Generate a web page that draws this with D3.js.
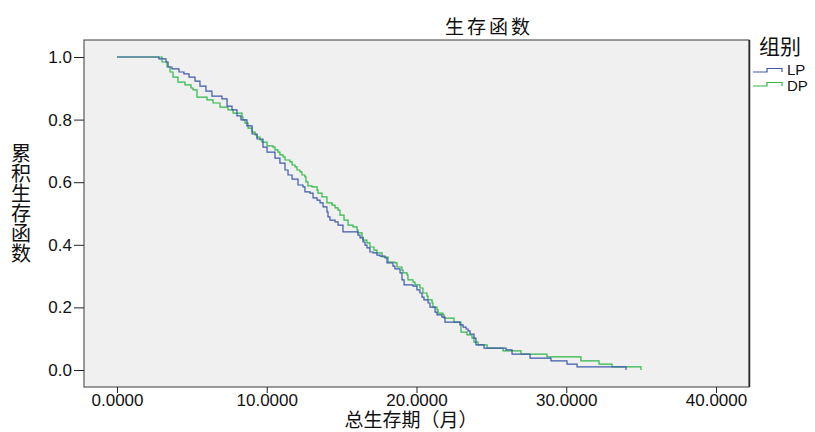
<!DOCTYPE html>
<html lang="zh-CN"><head><meta charset="utf-8">
<script src="https://cdn.jsdelivr.net/npm/d3@7"></script>
<style>body{margin:0;background:#fff}</style>
</head><body>
<svg id="c" width="815" height="432" lang="zh-CN"></svg>
<script>
const title = "生存函数";
const xTitle = "总生存期（月）";
const yTitle = "累积生存函数";
const legendTitle = "组别";
const groups = ["LP", "DP"];
const xTicks = [0, 10, 20, 30, 40];
const yTicks = [0, 0.2, 0.4, 0.6, 0.8, 1.0];

// time (months) at which survival drops, survival after drop
const lpTime = [2.80,3.27,3.41,3.67,4.14,4.47,4.81,5.21,5.54,5.94,6.34,7.01,7.35,7.68,8.01,8.28,8.68,9.02,9.35,9.75,10.02,10.55,10.88,11.22,11.42,11.69,12.09,12.42,12.55,12.89,13.09,13.36,13.56,13.76,14.02,14.09,14.22,14.56,14.76,15.09,16.09,16.23,16.43,16.56,16.69,16.89,17.10,17.36,17.56,17.90,18.03,18.43,18.56,18.90,19.03,19.17,19.77,20.03,20.23,20.37,20.50,20.77,20.90,21.24,21.37,21.70,21.90,22.90,23.11,23.31,23.44,23.57,23.84,23.97,24.51,25.98,26.38,27.58,28.98,30.05,30.72,33.99];
const lpSurv = [0.994,0.984,0.968,0.962,0.952,0.946,0.936,0.923,0.907,0.891,0.875,0.866,0.843,0.831,0.812,0.799,0.780,0.754,0.738,0.712,0.696,0.677,0.661,0.639,0.623,0.610,0.591,0.585,0.569,0.565,0.550,0.543,0.534,0.521,0.505,0.489,0.479,0.473,0.463,0.441,0.431,0.422,0.409,0.399,0.390,0.377,0.374,0.367,0.364,0.358,0.342,0.332,0.323,0.310,0.288,0.272,0.268,0.256,0.246,0.233,0.224,0.214,0.201,0.185,0.176,0.169,0.153,0.144,0.137,0.131,0.125,0.115,0.102,0.080,0.070,0.064,0.051,0.038,0.029,0.019,0.010,0.0];
const dpTime = [3.01,3.34,3.54,3.74,4.07,4.54,4.94,5.08,5.34,6.01,6.41,6.88,7.41,7.75,8.35,8.41,8.55,8.75,9.02,9.22,9.35,9.55,9.68,10.02,10.42,10.55,10.75,10.88,11.09,11.22,11.55,11.69,11.89,12.02,12.22,12.35,12.55,12.62,12.75,13.02,13.36,13.42,13.69,14.02,14.36,14.56,14.76,14.89,15.16,15.43,15.76,16.03,16.09,16.36,16.43,16.69,16.89,17.16,17.36,17.70,18.10,18.56,18.70,19.03,19.10,19.37,19.43,19.77,19.90,20.23,20.43,20.70,20.77,21.04,21.10,21.37,21.44,21.77,21.84,22.50,22.97,23.37,23.71,23.84,24.11,24.71,25.78,26.98,28.71,30.98,32.19,33.06,34.99];
const dpSurv = [0.984,0.968,0.952,0.936,0.920,0.911,0.901,0.895,0.872,0.863,0.853,0.840,0.831,0.821,0.808,0.799,0.789,0.773,0.760,0.751,0.744,0.735,0.728,0.716,0.712,0.703,0.696,0.687,0.681,0.671,0.665,0.655,0.649,0.639,0.633,0.623,0.617,0.601,0.588,0.585,0.575,0.565,0.553,0.534,0.527,0.518,0.511,0.495,0.479,0.463,0.457,0.447,0.438,0.425,0.415,0.406,0.393,0.383,0.374,0.361,0.345,0.342,0.329,0.319,0.310,0.304,0.288,0.281,0.272,0.262,0.246,0.236,0.224,0.214,0.201,0.192,0.182,0.176,0.166,0.153,0.121,0.112,0.102,0.089,0.080,0.070,0.061,0.051,0.042,0.029,0.019,0.010,0.0];

const colors = ["#3E58AC", "#2EB848"];

const svg = d3.select("#c");
const F = "'Liberation Sans', Arial, sans-serif";
const CJK = "'Noto Sans CJK SC', sans-serif";
const CJKT = "'Liberation Sans', 'Noto Sans CJK SC', sans-serif";

const box = {l: 84, r: 749, t: 40, b: 387};
const x = d3.scaleLinear().domain([0, 40]).range([117, 716]);
const y = d3.scaleLinear().domain([0, 1]).range([370, 57]);

svg.append("rect").attr("x", box.l).attr("y", box.t)
  .attr("width", box.r - box.l).attr("height", box.b - box.t)
  .attr("fill", "#f0f0f0").attr("stroke", "#3a3a3a").attr("stroke-width", 1);
svg.append("line").attr("x1", box.r + 0.5).attr("x2", box.r + 0.5).attr("y1", box.t).attr("y2", box.b)
  .attr("stroke", "#2a2a2a").attr("stroke-width", 1.5);

// axes
const ya = svg.append("g").attr("transform", `translate(${box.l},0)`)
  .call(d3.axisLeft(y).tickValues(yTicks).tickFormat(d3.format(".1f")).tickSize(10).tickPadding(2));
const xa = svg.append("g").attr("transform", `translate(0,${box.b})`)
  .call(d3.axisBottom(x).tickValues(xTicks).tickFormat(d3.format(".4f")).tickSize(6).tickPadding(1));
[ya, xa].forEach(g => {
  g.select(".domain").remove();
  g.selectAll(".tick line").attr("stroke", "#222");
  g.selectAll(".tick text").attr("fill", "#111").style("font-family", F).style("font-size", "17px");
});

// curves
const line = d3.line().x(d => x(d[0])).y(d => y(d[1])).curve(d3.curveStepAfter);
const series = [
  [[0, 1]].concat(lpTime.map((t, i) => [t, lpSurv[i]])),
  [[0, 1]].concat(dpTime.map((t, i) => [t, dpSurv[i]]))
];
[1, 0].forEach(i => {
  svg.append("path").datum(series[i]).attr("d", line)
    .attr("fill", "none").attr("stroke", colors[i]).attr("stroke-width", 1.2);
});

// titles
svg.append("text").attr("x", 489).attr("y", 34).attr("text-anchor", "middle")
  .style("font-family", CJK).style("font-size", "19px").style("letter-spacing", "3px").attr("fill", "#111").text(title);
svg.append("text").attr("x", 411).attr("y", 427).attr("text-anchor", "middle")
  .style("font-family", CJKT).style("font-size", "19px").attr("fill", "#111").text(xTitle);
svg.append("text").attr("x", 21).attr("y", 203)
  .attr("text-anchor", "middle")
  .style("writing-mode", "vertical-rl").style("text-orientation", "upright")
  .style("font-family", CJK).style("font-size", "20px").attr("fill", "#111").text(yTitle);

// legend
svg.append("text").attr("x", 759).attr("y", 54).style("font-family", CJK).style("font-size", "21px")
  .attr("fill", "#111").text(legendTitle);
groups.forEach((g, i) => {
  const yb = 72 + i * 14;
  const path = d3.path();
  path.moveTo(753, yb); path.lineTo(767, yb); path.lineTo(767, yb - 3.5);
  path.lineTo(782, yb - 3.5); path.lineTo(782, yb);
  svg.append("path").attr("d", path.toString()).attr("fill", "none")
    .attr("stroke", colors[i]).attr("stroke-width", 1.2);
  svg.append("text").attr("x", 787).attr("y", 75 + i * 16).style("font-family", F).style("font-size", "15px")
    .attr("fill", "#111").text(g);
});
</script>
</body></html>
